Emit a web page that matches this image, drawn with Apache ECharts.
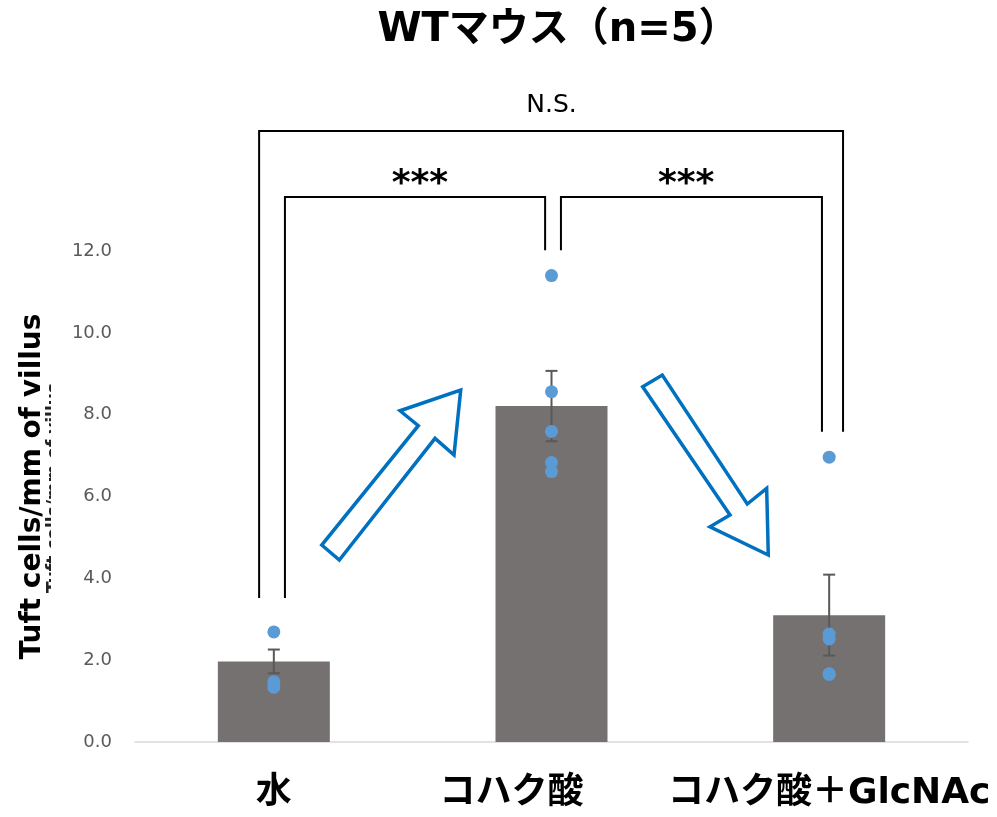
<!DOCTYPE html>
<html>
<head>
<meta charset="utf-8">
<script src="https://cdn.jsdelivr.net/npm/echarts@6/dist/echarts.min.js"></script>
<style>
  html, body { margin: 0; padding: 0; background: #fff; }
  #chart { width: 997px; height: 817px; }
</style>
</head>
<body>
<div id="chart"></div>
<script>
// Groups on the x axis
const categories = ['水', 'コハク酸', 'コハク酸＋GlcNAc'];
// Group means (Tuft cells/mm of villus)
const means = [1.97, 8.21, 3.10];
// Standard error of each group
const sem = [0.29, 0.86, 0.99];
// Individual animals per group
const pointsWater = [2.69, 1.47, 1.34];
const pointsSuccinate = [11.40, 8.56, 7.59, 6.83, 6.61];
const pointsSuccinateGlcNAc = [6.96, 2.64, 2.52, 1.67, 1.65];
// y-axis ticks
const yTicks = [0, 2, 4, 6, 8, 10, 12];
// Significance labels: 水 vs コハク酸, コハク酸 vs +GlcNAc, 水 vs +GlcNAc
const sigLabels = ['***', '***', 'N.S.'];
const titleText = 'WTマウス（n=5）';
const yAxisTitle = 'Tuft cells/mm of villus';

// Latin glyphs from DejaVu, kana/kanji fall back to Noto CJK
const FONT_MIX = '"DejaVu Sans", "Noto Sans CJK JP", sans-serif';

const scatterData = [];
[pointsWater, pointsSuccinate, pointsSuccinateGlcNAc].forEach((arr, i) => {
  arr.forEach(v => scatterData.push([i, v]));
});
const errData = means.map((m, i) => [i, m - sem[i], m + sem[i]]);

// Bracket geometry in axis units (x: group index on the helper axis, y: value axis)
const brackets = [
  { x0: 0.04, x1: 0.977, top: 13.32, left: 3.52, right: 12.02, tx: 0.526, ty: 13.62, size: 36, bold: true, label: sigLabels[0] },
  { x0: 1.034, x1: 1.974, top: 13.32, left: 12.02, right: 7.58, tx: 1.485, ty: 13.62, size: 36, bold: true, label: sigLabels[1] },
  { x0: -0.053, x1: 2.05, top: 14.93, left: 3.52, right: 7.58, tx: 1.0, ty: 15.55, size: 25, bold: false, label: sigLabels[2] }
];

// Hollow arrows (axis units)
const arrows = [
  [[0.1725, 4.814], [0.2359, 4.448], [0.5805, 7.422], [0.6489, 7.014], [0.6730, 8.602], [0.4544, 8.096], [0.5203, 7.730]],
  [[1.3284, 8.683], [1.3990, 8.969], [1.7051, 5.816], [1.7749, 6.200], [1.7807, 4.570], [1.5708, 5.261], [1.6428, 5.547]]
];

const chart = echarts.init(document.getElementById('chart'), null, { renderer: 'canvas' });

const labelFont = { fontFamily: FONT_MIX, fontWeight: 'bold', fontSize: 36, color: '#000' };

chart.setOption({
  animation: false,
  backgroundColor: '#ffffff',
  graphic: [
    {
      type: 'text',
      x: 558,
      y: 31,
      z: 10,
      style: {
        text: titleText,
        font: `bold 40px ${FONT_MIX}`,
        fill: '#000',
        align: 'center',
        verticalAlign: 'middle'
      }
    }
  ],
  grid: { left: 135, right: 29, top: 251, bottom: 75 },
  xAxis: [
    {
      type: 'category',
      data: categories,
      axisLine: { show: true, lineStyle: { color: '#d9d9d9', width: 1.5 } },
      axisTick: { show: false },
      axisLabel: {
        interval: 0,
        margin: 34,
        ...labelFont,
        formatter: (v, i) => i === 1 ? `{shift|${v}}` : `{base|${v}}`,
        rich: {
          base: { ...labelFont },
          shift: { ...labelFont, padding: [0, 80, 0, 0] }
        }
      }
    },
    { type: 'value', min: -0.5, max: 2.5, show: false }
  ],
  yAxis: {
    type: 'value',
    min: 0,
    max: 12,
    interval: 2,
    name: yAxisTitle,
    nameLocation: 'middle',
    nameGap: 88,
    nameTextStyle: {
      fontFamily: FONT_MIX, fontWeight: 'bold', fontSize: 28, color: '#000',
      padding: [0, 0, 0, 20]
    },
    axisLine: { show: false },
    axisTick: { show: false },
    splitLine: { show: false },
    axisLabel: {
      margin: 23,
      color: '#595959',
      fontFamily: '"DejaVu Sans", sans-serif',
      fontSize: 18,
      formatter: v => yTicks.includes(v) ? v.toFixed(1) : ''
    }
  },
  series: [
    {
      type: 'bar',
      data: means,
      barWidth: 112,
      itemStyle: { color: '#767171' },
      z: 2
    },
    {
      type: 'custom',
      data: errData,
      z: 3,
      renderItem: (params, api) => {
        const lo = api.coord([api.value(0), api.value(1)]);
        const hi = api.coord([api.value(0), api.value(2)]);
        const w = 6;
        const style = { stroke: '#595959', lineWidth: 2 };
        return {
          type: 'group',
          children: [
            { type: 'line', shape: { x1: hi[0], y1: hi[1], x2: lo[0], y2: lo[1] }, style },
            { type: 'line', shape: { x1: hi[0] - w, y1: hi[1], x2: hi[0] + w, y2: hi[1] }, style },
            { type: 'line', shape: { x1: lo[0] - w, y1: lo[1], x2: lo[0] + w, y2: lo[1] }, style }
          ]
        };
      }
    },
    {
      type: 'scatter',
      data: scatterData,
      symbol: 'circle',
      symbolSize: 13,
      itemStyle: { color: '#5b9bd5', opacity: 1 },
      z: 4
    },
    {
      type: 'custom',
      xAxisIndex: 1,
      yAxisIndex: 0,
      clip: false,
      z: 5,
      data: brackets.map((b, i) => i),
      renderItem: (params, api) => {
        const b = brackets[params.dataIndex];
        const p1 = api.coord([b.x0, b.left]);
        const p2 = api.coord([b.x0, b.top]);
        const p3 = api.coord([b.x1, b.top]);
        const p4 = api.coord([b.x1, b.right]);
        const t = api.coord([b.tx, b.ty]);
        return {
          type: 'group',
          children: [
            {
              type: 'polyline',
              shape: { points: [p1, p2, p3, p4] },
              style: { stroke: '#000', lineWidth: 2, fill: null }
            },
            {
              type: 'text',
              x: t[0], y: t[1],
              style: {
                text: b.label,
                fill: '#000',
                font: `${b.bold ? 'bold ' : ''}${b.size}px "DejaVu Sans", sans-serif`,
                align: 'center',
                verticalAlign: 'middle'
              }
            }
          ]
        };
      }
    },
    {
      type: 'custom',
      xAxisIndex: 1,
      yAxisIndex: 0,
      clip: false,
      z: 6,
      data: arrows.map((a, i) => i),
      renderItem: (params, api) => {
        const pts = arrows[params.dataIndex].map(p => api.coord(p));
        return {
          type: 'polygon',
          shape: { points: pts },
          style: { fill: '#ffffff', stroke: '#0070c0', lineWidth: 3.5, lineJoin: 'miter' }
        };
      }
    },
    // Second, smaller copy of the axis title, mostly hidden: only a sliver of it shows
    {
      type: 'custom',
      xAxisIndex: 1,
      yAxisIndex: 0,
      clip: false,
      silent: true,
      z: 1,
      data: [0],
      renderItem: () => ({
        type: 'text',
        x: 46,
        y: 488,
        rotation: Math.PI / 2,
        clipPath: { type: 'rect', shape: { x: -200, y: -1, width: 400, height: 6 } },
        style: {
          text: yAxisTitle,
          font: `bold 17px ${FONT_MIX}`,
          fill: '#222',
          align: 'center',
          verticalAlign: 'top'
        }
      })
    }
  ]
});
</script>
</body>
</html>
